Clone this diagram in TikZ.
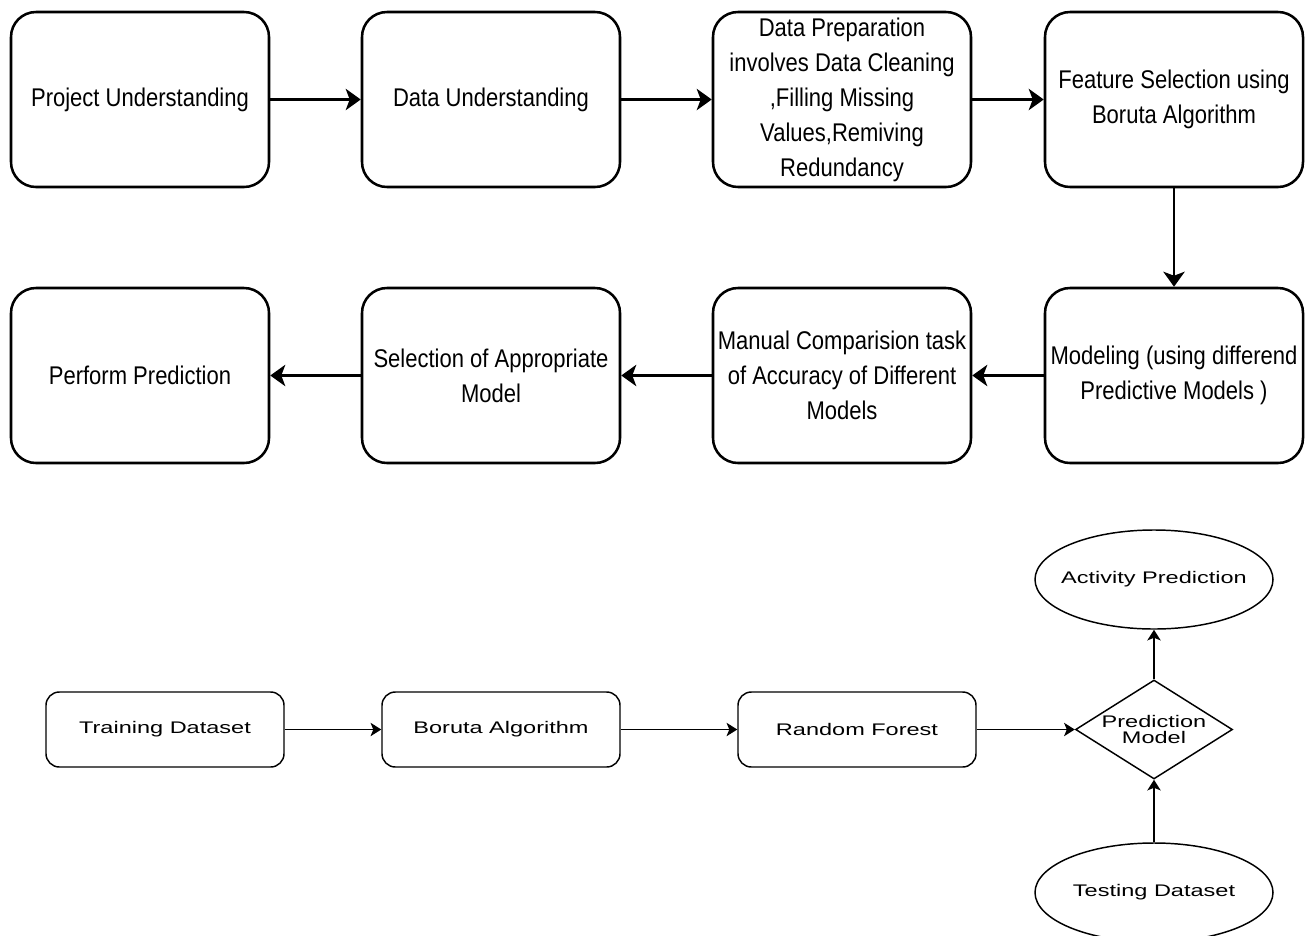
\documentclass[tikz,border=0pt]{standalone}
\usepackage{fontspec}
\usetikzlibrary{shapes.geometric,arrows.meta}
\newfontfamily\topfont[FakeStretch=0.86]{Liberation Sans}
\newfontfamily\botfont[FakeStretch=1.4]{Liberation Sans}
\tikzset{
  bigbox/.style={draw=black, line width=1.9pt, rounded corners=18.75pt, minimum width=193.5pt, minimum height=131.25pt, inner sep=0pt, align=center, font=\topfont\fontsize{19.2}{26.25}\selectfont},
  bigarrow/.style={line width=1.9pt, -{Stealth[length=11.25pt, width=16pt, inset=3pt]}},
  botfnt/.style={font=\botfont\fontsize{12.6}{12.5}\selectfont},
  smallbox/.style={draw=black, line width=1.1pt, rounded corners=10pt, minimum width=178.5pt, minimum height=56.25pt, inner sep=0pt, align=center, botfnt},
  smallell/.style={draw=black, line width=1.1pt, ellipse, minimum width=178.5pt, minimum height=74.25pt, inner sep=0pt},
  smalldia/.style={draw=black, line width=1.1pt, diamond, aspect=1.59, minimum width=117.75pt, minimum height=74.25pt, inner sep=0pt, align=center, botfnt},
  smallarrow/.style={line width=1.1pt, -{Stealth[length=8pt, width=10pt, inset=2pt]}}
}
\begin{document}
\begin{tikzpicture}[x=0.75pt, y=-0.75pt]
\useasboundingbox (0,0) rectangle (1306,935);
% top row
\node[bigbox] (b1) at (140,99.5) {Project Understanding};
\node[bigbox] (b2) at (491,99.5) {Data Understanding};
\node[bigbox] (b3) at (842,99.5) {Data Preparation\\involves Data Cleaning\\,Filling Missing\\Values,Remiving\\Redundancy};
\node[bigbox] (b4) at (1174,99.5) {Feature Selection using\\Boruta Algorithm};
% second row
\node[bigbox] (c4) at (1174,375.5) {Modeling (using differend\\Predictive Models )};
\node[bigbox] (c3) at (842,375.5) {Manual Comparision task\\of Accuracy of Different\\Models};
\node[bigbox] (c2) at (491,375.5) {Selection of Appropriate\\Model};
\node[bigbox] (c1) at (140,375.5) {Perform Prediction};
\draw[bigarrow] (b1) -- (b2);
\draw[bigarrow] (b2) -- (b3);
\draw[bigarrow] (b3) -- (b4);
\draw[bigarrow] (b4) -- (c4);
\draw[bigarrow] (c4) -- (c3);
\draw[bigarrow] (c3) -- (c2);
\draw[bigarrow] (c2) -- (c1);
% bottom
\node[smallbox] (t) at (165,729.5) {Training Dataset};
\node[smallbox] (ba) at (501,729.5) {Boruta Algorithm};
\node[smallbox] (rf) at (857,729.5) {Random Forest};
\node[smalldia] (pm) at (1154,729.5) {Prediction\\Model};
\node[smallell] (ap) at (1154,579.5) {};
\node[botfnt] (aptext) at (ap.center) {Activity Prediction};
\node[smallell] (td) at (1154,892.5) {};
\node[botfnt] (tdtext) at (td.center) {Testing Dataset};
\draw[smallarrow] (t) -- (ba);
\draw[smallarrow] (ba) -- (rf);
\draw[smallarrow] (rf) -- (pm);
\draw[smallarrow] (pm) -- (ap);
\draw[smallarrow] (td) -- (pm);
\end{tikzpicture}
\end{document}
